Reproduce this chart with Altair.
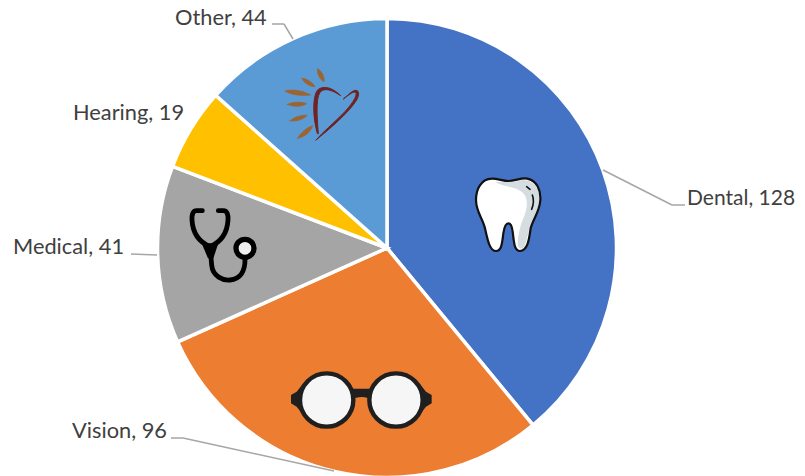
import altair as alt
import pandas as pd

categories = ["Dental", "Vision", "Medical", "Hearing", "Other"]
amounts = [128, 96, 41, 19, 44]
palette = ["#4472C4", "#ED7D31", "#A5A5A5", "#FFC000", "#5B9BD5"]

W, H = 789, 468
CX, CY, R = 379, 240, 229.5

df = pd.DataFrame({"name": categories, "value": amounts, "idx": range(len(categories))})
one = alt.Data(values=[{"k": 1}])


def px(x):
    return x - 8


def py(y):
    return y - 8


pie = alt.Chart(df).mark_arc(radius=R, stroke="white", strokeWidth=3.5).encode(
    theta=alt.Theta("value:Q", stack=True),
    order=alt.Order("idx:Q"),
    color=alt.Color("name:N", scale=alt.Scale(domain=categories, range=palette), legend=None),
    x=alt.value(CX),
    y=alt.value(CY),
)

# label placement: category -> (left edge, baseline, font size) in page pixels
label_spots = {
    "Dental": (687, 205, 21),
    "Vision": (72, 438, 21.8),
    "Medical": (13, 254, 21.8),
    "Hearing": (73, 120, 21.8),
    "Other": (175, 25, 21.8),
}
layers = [pie]
for name, (lx, ly, fs) in label_spots.items():
    layers.append(
        alt.Chart(df)
        .transform_filter(alt.datum.name == name)
        .transform_calculate(label="datum.name + ', ' + datum.value")
        .mark_text(align="left", baseline="alphabetic", font="Lato", fontSize=fs, color="#404040")
        .encode(text="label:N", x=alt.value(px(lx)), y=alt.value(py(ly)))
    )

# leader lines
leaders = [
    [(603, 170), (672, 205), (685, 205)],
    [(171, 438), (183, 438), (334, 471)],
    [(131, 254), (157, 255)],
    [(272, 24), (284, 24), (293, 39)],
]
for pts in leaders:
    for (a, b), (c, d) in zip(pts[:-1], pts[1:]):
        layers.append(
            alt.Chart(one).mark_rule(color="#A6A6A6", strokeWidth=1.5).encode(
                x=alt.value(px(a)), y=alt.value(py(b)), x2=alt.value(px(c)), y2=alt.value(py(d))
            )
        )


def icon(ox, oy, path, fill=None, stroke=None, sw=0):
    """Draw a path given at 3x scale, relative to (ox, oy) on the page."""
    kw = {"shape": path, "size": 4 / 9, "opacity": 1, "strokeCap": "round", "strokeJoin": "round"}
    kw["filled"] = fill is not None
    if fill is not None:
        kw["fill"] = fill
    kw["strokeWidth"] = sw
    if stroke is not None:
        kw["stroke"] = stroke
    return alt.Chart(one).mark_point(**kw).encode(x=alt.value(px(ox)), y=alt.value(py(oy)))


# tooth
TOOTH = ("M205 93 C225 93 245 82 262 86 C290 92 303 120 301 150 C299 185 280 205 272 235 "
         "C268 260 265 302 240 303 C222 303 222 275 218 245 C216 228 210 220 205 220 "
         "C198 220 193 230 190 250 C186 280 185 303 168 303 C148 303 142 265 135 235 "
         "C128 205 108 185 108 150 C108 115 125 87 155 86 C170 85 190 93 205 93 Z")
SHADE = ("M165 95 C185 110 225 110 245 125 C265 140 265 170 250 205 C240 230 235 250 233 285 "
         "C238 300 250 300 255 285 C265 255 270 225 280 205 C295 185 300 150 298 130 "
         "C290 100 265 88 245 90 C220 100 190 95 165 95 Z")
layers += [
    icon(440, 150, TOOTH, fill="#FFFFFF"),
    icon(440, 150, SHADE, fill="#D5DDE0"),
    icon(440, 150, TOOTH, fill="transparent", stroke="#111111", sw=2.2),
    icon(440, 150, "M260 110 L270 118", fill="transparent", stroke="#111111", sw=1.6),
    icon(440, 150, "M277 135 C283 150 280 165 275 178", fill="transparent", stroke="#111111", sw=1.6),
]

# glasses
FRAME = "#1F1F1F"
LENS = "#F6F6F6"
layers += [
    icon(270, 350, "M63 135 L80 125 L100 100 L100 195 L80 170 L63 160 Z", fill=FRAME),
    icon(270, 350, "M485 135 L468 125 L448 100 L448 195 L468 170 L485 160 Z", fill=FRAME),
    icon(270, 350, "M235 116 L315 116 L293 144 Q276 138 257 144 Z", fill=FRAME),
    icon(270, 350, "M90 150 A80 80 0 1 1 250 150 A80 80 0 1 1 90 150 Z", fill=LENS, stroke=FRAME, sw=4.4),
    icon(270, 350, "M298 150 A80 80 0 1 1 458 150 A80 80 0 1 1 298 150 Z", fill=LENS, stroke=FRAME, sw=4.4),
]

# stethoscope
layers += [
    icon(170, 190, "M97 62 L80 62 C68 62 65 75 66 90 C68 125 85 155 120 170 C155 155 172 125 174 90 "
                   "C175 75 172 62 160 62 L145 62", fill="transparent", stroke="#000000", sw=4.8),
    icon(170, 190, "M120 170 L125 225 C128 260 160 272 180 270 C210 268 226 245 225 205",
         fill="transparent", stroke="#000000", sw=4.8),
    icon(170, 190, "M95 160 L145 160 L130 205 L114 205 Z", fill="#000000"),
    icon(170, 190, "M198 175 A27 27 0 1 1 252 175 A27 27 0 1 1 198 175 Z", fill="#EFEFEF", stroke="#000000", sw=5.3),
]

# heart and rays
RAY = "#9C6430"
HEART = "#6F2323"
for p in [
    "M143 57 C155 60 165 85 162 95 C150 90 140 70 143 57 Z",
    "M96 85 C110 85 130 100 135 110 C120 110 100 98 96 85 Z",
    "M46 123 C70 115 105 125 122 135 C95 138 60 135 46 123 Z",
    "M52 163 C70 155 95 155 110 161 C95 170 70 172 52 163 Z",
    "M60 212 C75 200 95 195 112 196 C100 208 78 216 60 212 Z",
    "M83 265 C95 245 112 232 128 227 C122 245 105 260 83 265 Z",
]:
    layers.append(icon(270, 50, p, fill=RAY, stroke=RAY, sw=0.8))
for p in [
    "M142 250 C125 190 130 130 145 118 C165 105 190 115 212 137 C190 122 165 112 152 125 C138 140 140 190 145 250 Z",
    "M138 270 C175 240 235 190 260 150 C268 135 268 122 258 121 C248 120 235 135 220 147 "
    "C240 132 252 122 258 128 C262 138 245 165 215 195 C190 220 160 245 138 270 Z",
]:
    layers.append(icon(270, 50, p, fill=HEART, stroke=HEART, sw=1))

chart = (
    alt.layer(*layers)
    .properties(width=W, height=H, padding=0, autosize=alt.AutoSizeParams(type="none"))
    .configure_view(stroke=None)
)
chart.save("out.html", embed_options={"renderer": "svg", "actions": False})
